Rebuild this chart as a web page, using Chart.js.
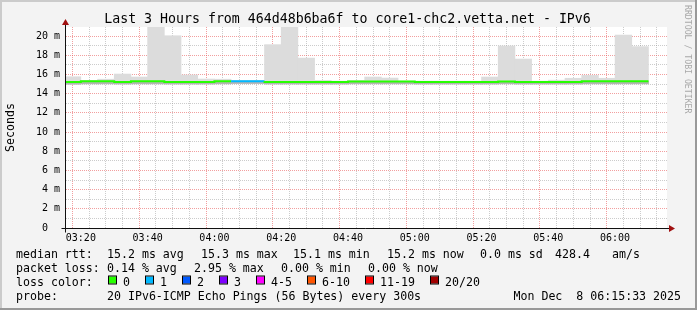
<!DOCTYPE html>
<html>
<head>
<meta charset="utf-8">
<title>Smokeping - Last 3 Hours</title>
<script src="https://cdn.jsdelivr.net/npm/chart.js@4.4.1/dist/chart.umd.min.js"></script>
<style>
  html, body { margin: 0; padding: 0; background: #f3f3f3; }
  #wrap { position: relative; width: 697px; height: 310px; }
</style>
</head>
<body>
<div id="wrap"><canvas id="chart" width="697" height="310"></canvas></div>
<script>
// 5 minute steps, labelled by the end of each step
const slotEnd = [
  '03:20', '03:25', '03:30', '03:35', '03:40', '03:45', '03:50', '03:55',
  '04:00', '04:05', '04:10', '04:15', '04:20', '04:25', '04:30', '04:35',
  '04:40', '04:45', '04:50', '04:55', '05:00', '05:05', '05:10', '05:15',
  '05:20', '05:25', '05:30', '05:35', '05:40', '05:45', '05:50', '05:55',
  '06:00', '06:05', '06:10'
];

// values in milliseconds
const smokeMax = [
  15.76, 15.38, 15.5, 16.04, 15.73, 21.5, 20.03, 15.94,
  15.52, 15.5, 15.38, 15.38, 19.1, 21.5, 17.7, 15.38,
  15.3, 15.38, 15.73, 15.62, 15.3, 15.3, 15.3, 15.3,
  15.3, 15.73, 18.96, 17.6, 15.3, 15.4, 15.6, 15.9,
  15.6, 20.1, 18.9
];
const smokeMin = [
  14.98, 15.02, 15.02, 15.0, 15.02, 15.02, 15.0, 15.0,
  15.0, 15.02, 15.05, 15.05, 15.0, 15.0, 15.0, 15.0,
  15.0, 15.02, 15.02, 15.02, 15.02, 15.0, 15.0, 15.0,
  15.0, 15.0, 15.02, 15.0, 15.0, 15.0, 15.0, 15.02,
  15.02, 15.02, 15.02
];
const median = [
  15.2, 15.3, 15.3, 15.2, 15.3, 15.3, 15.2, 15.2,
  15.2, 15.3, 15.3, 15.3, 15.2, 15.2, 15.2, 15.2,
  15.2, 15.25, 15.25, 15.25, 15.25, 15.2, 15.2, 15.2,
  15.2, 15.2, 15.25, 15.2, 15.2, 15.2, 15.2, 15.3,
  15.3, 15.3, 15.3
];
// lost pings out of 20 per step
const lossCount = [
  0, 0, 0, 0, 0, 0, 0, 0,
  0, 0, 1, 1, 0, 0, 0, 0,
  0, 0, 0, 0, 0, 0, 0, 0,
  0, 0, 0, 0, 0, 0, 0, 0,
  0, 0, 0
];

const xTickLabels = ['03:20', '03:40', '04:00', '04:20', '04:40', '05:00', '05:20', '05:40', '06:00'];
const rangeStart = '03:15:33';
const rangeEnd = '06:15:33';

const lossLabels = ['0', '1', '2', '3', '4-5', '6-10', '11-19', '20/20'];
const lossColors = ['#26ff00', '#00b8ff', '#0059ff', '#7e00ff', '#ff00ff', '#ff5500', '#ff0000', '#a10000'];

const titleText = 'Last 3 Hours from 464d48b6ba6f to core1-chc2.vetta.net - IPv6';
const rttStats = ['15.2 ms avg', '15.3 ms max', '15.1 ms min', '15.2 ms now', '0.0 ms sd', '428.4', 'am/s'];
const lossStats = ['0.14 % avg', '2.95 % max', '0.00 % min', '0.00 % now'];
const probeText = '20 IPv6-ICMP Echo Pings (56 Bytes) every 300s';
const stampText = 'Mon Dec  8 06:15:33 2025';

// minutes since midnight
function toMin(t) {
  const p = t.split(':').map(Number);
  return p[0] * 60 + p[1] + (p[2] || 0) / 60;
}

function colorIndex(lost) {
  if (lost <= 3) return lost;
  if (lost <= 5) return 4;
  if (lost <= 10) return 5;
  if (lost <= 19) return 6;
  return 7;
}

const step = 5;
const slotCenter = slotEnd.map(t => toMin(t) - step / 2);

const smokeData = slotCenter.map((x, i) => ({ x: x, y: [smokeMin[i], smokeMax[i]] }));
const smokeCore = slotCenter.map((x, i) => ({ x: x, y: [smokeMin[i], median[i]] }));
const medianData = [];
slotEnd.forEach((t, i) => {
  medianData.push({ x: toMin(t) - step, y: median[i] });
  medianData.push({ x: toMin(t), y: median[i] });
});

const MONO = '"DejaVu Sans Mono", monospace';
const MAJOR = 'rgba(232, 80, 80, 0.55)';
const MINOR = 'rgba(143, 143, 143, 0.45)';
const ARROW = '#a01010';

const rrdPlugin = {
  id: 'rrd',
  beforeDraw(chart) {
    const { ctx, chartArea: a, width, height } = chart;
    ctx.save();
    ctx.fillStyle = '#f3f3f3';
    ctx.fillRect(0, 0, width, height);
    // frame
    ctx.fillStyle = '#cbcbcb';
    ctx.fillRect(0, 0, width, 2);
    ctx.fillRect(0, 0, 2, height);
    ctx.fillStyle = '#999999';
    ctx.fillRect(width - 2, 0, 2, height);
    ctx.fillRect(0, height - 2, width, 2);
    ctx.fillStyle = '#ffffff';
    ctx.fillRect(a.left, a.top, a.right - a.left, a.bottom - a.top);
    ctx.restore();
  },
  afterDatasetsDraw(chart) {
    const { ctx, chartArea: a } = chart;
    const y0 = Math.round(a.bottom) + 0.5;
    const x0 = Math.round(a.left) - 0.5;
    ctx.save();
    ctx.strokeStyle = '#101010';
    ctx.lineWidth = 1;
    ctx.beginPath();
    ctx.moveTo(x0 - 4, y0);
    ctx.lineTo(a.right + 2, y0);
    ctx.moveTo(x0, y0 + 4);
    ctx.lineTo(x0, a.top - 3);
    ctx.stroke();
    ctx.fillStyle = ARROW;
    ctx.beginPath();
    ctx.moveTo(x0, a.top - 8);
    ctx.lineTo(x0 - 3.5, a.top - 2);
    ctx.lineTo(x0 + 3.5, a.top - 2);
    ctx.closePath();
    ctx.fill();
    ctx.beginPath();
    ctx.moveTo(a.right + 8, y0);
    ctx.lineTo(a.right + 2, y0 - 3.5);
    ctx.lineTo(a.right + 2, y0 + 3.5);
    ctx.closePath();
    ctx.fill();
    ctx.restore();
  },
  afterDraw(chart) {
    const { ctx } = chart;

    // title
    ctx.save();
    ctx.font = '13.25px ' + MONO;
    ctx.fillStyle = '#000';
    ctx.textAlign = 'center';
    ctx.textBaseline = 'alphabetic';
    ctx.fillText(titleText, 347.5, 23);
    ctx.restore();

    // watermark
    ctx.save();
    ctx.translate(685, 5);
    ctx.rotate(Math.PI / 2);
    ctx.font = '8.2px ' + MONO;
    ctx.fillStyle = '#a8a8a8';
    ctx.textBaseline = 'alphabetic';
    ctx.fillText('RRDTOOL / TOBI OETIKER', 0, 0);
    ctx.restore();

    // legend block
    ctx.save();
    ctx.font = '11.6px ' + MONO;
    ctx.fillStyle = '#000';
    ctx.textBaseline = 'alphabetic';
    const rows = [257.5, 271.5, 285.5, 299.5];
    const rttX = [107, 201, 293, 387, 480, 555, 612];
    const lossX = [107, 194, 281, 368];
    ctx.fillText('median rtt:', 16, rows[0]);
    rttStats.forEach((s, i) => ctx.fillText(s, rttX[i], rows[0]));
    ctx.fillText('packet loss:', 16, rows[1]);
    lossStats.forEach((s, i) => ctx.fillText(s, lossX[i], rows[1]));
    ctx.fillText('loss color:', 16, rows[2]);
    let bx = 109;
    lossLabels.forEach((lab, i) => {
      ctx.fillStyle = lossColors[i];
      ctx.fillRect(bx, rows[2] - 9, 7, 7);
      ctx.strokeStyle = '#000';
      ctx.lineWidth = 1;
      ctx.strokeRect(bx - 0.5, rows[2] - 9.5, 8, 8);
      ctx.fillStyle = '#000';
      ctx.fillText(lab, bx + 14, rows[2]);
      bx += 37 + 7 * (lab.length - 1);
    });
    ctx.fillText('probe:', 16, rows[3]);
    ctx.fillText(probeText, 107, rows[3]);
    ctx.textAlign = 'right';
    ctx.fillText(stampText, 681, rows[3]);
    ctx.restore();
  }
};

const xMin = toMin(rangeStart);
const xMax = toMin(rangeEnd);
const majorTicks = xTickLabels.map(toMin);

function gridColor(isMajor) {
  return c => (c.tick && isMajor(c.tick.value)) ? MAJOR : MINOR;
}

new Chart(document.getElementById('chart'), {
  type: 'bar',
  data: {
    datasets: [
      {
        type: 'line',
        label: 'median rtt',
        data: medianData,
        borderColor: lossColors[0],
        borderWidth: 2,
        borderCapStyle: 'butt',
        borderJoinStyle: 'miter',
        pointRadius: 0,
        tension: 0,
        order: 0,
        segment: {
          borderColor: c => lossColors[colorIndex(lossCount[Math.floor(c.p1DataIndex / 2)])]
        }
      },
      {
        label: 'smoke core',
        data: smokeCore,
        backgroundColor: '#b4b4b4',
        borderWidth: 0,
        grouped: false,
        barPercentage: 1,
        categoryPercentage: 1,
        order: 1
      },
      {
        label: 'smoke',
        data: smokeData,
        backgroundColor: '#dcdcdc',
        borderWidth: 0,
        grouped: false,
        barPercentage: 1,
        categoryPercentage: 1,
        order: 2
      }
    ]
  },
  options: {
    responsive: false,
    animation: false,
    events: [],
    layout: { padding: { left: 0, right: 30, top: 27, bottom: 62 } },
    plugins: {
      legend: { display: false },
      tooltip: { enabled: false }
    },
    scales: {
      x: {
        type: 'linear',
        min: xMin,
        max: xMax,
        offset: false,
        afterBuildTicks: s => {
          const t = [];
          for (let v = Math.ceil(xMin / step) * step; v <= xMax; v += step) t.push({ value: v });
          s.ticks = t;
        },
        afterFit: s => { s.height = 20; },
        grid: {
          drawTicks: false,
          color: gridColor(v => majorTicks.includes(v))
        },
        border: { display: false, dash: [1, 1] },
        ticks: {
          autoSkip: false,
          maxRotation: 0,
          padding: 4,
          color: '#000',
          font: { family: MONO, size: 10 },
          callback: v => {
            const i = majorTicks.indexOf(v);
            return i >= 0 ? xTickLabels[i] : '';
          }
        }
      },
      y: {
        min: 0,
        max: 20.94,
        afterBuildTicks: s => {
          const t = [];
          for (let v = 0; v <= 20; v++) t.push({ value: v });
          s.ticks = t;
        },
        afterFit: s => { s.width = 66; },
        grid: {
          drawTicks: false,
          color: gridColor(v => v % 2 === 0)
        },
        border: { display: false, dash: [1, 1] },
        title: {
          display: true,
          text: 'Seconds',
          color: '#000',
          font: { family: MONO, size: 11.6 },
          padding: { top: 4, bottom: 0 }
        },
        ticks: {
          autoSkip: false,
          padding: 6,
          color: '#000',
          font: { family: MONO, size: 10 },
          callback: v => v % 2 ? '' : (v === 0 ? '0  ' : v + ' m')
        }
      }
    }
  },
  plugins: [rrdPlugin]
});
</script>
</body>
</html>
